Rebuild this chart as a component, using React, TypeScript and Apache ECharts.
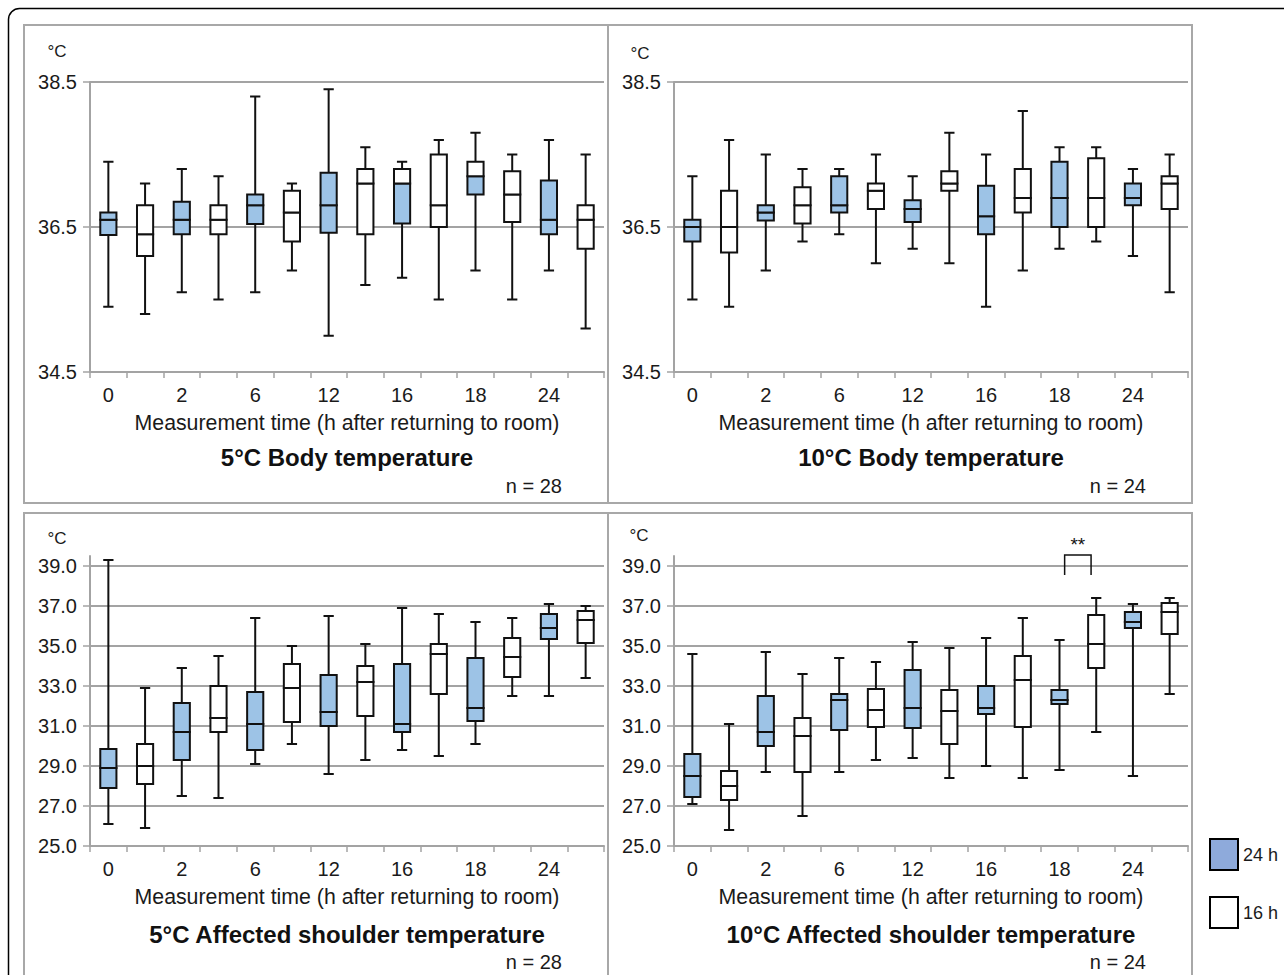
import React, { useEffect, useRef } from 'react';
import * as echarts from 'echarts';

// ---------- data ----------
const TIME_POINTS = ['0', '2', '6', '12', '16', '18', '24'];
const GROUPS = ['24 h', '16 h'];
const CATEGORIES = TIME_POINTS.flatMap((t) => GROUPS.map((g) => `${t}|${g}`));

const BODY_TICKS = [34.5, 36.5, 38.5];
const SHOULDER_TICKS = [25, 27, 29, 31, 33, 35, 37, 39];

// each row: [min, Q1, median, Q3, max]
const BODY5_24H = [
  [35.4, 36.39, 36.6, 36.7, 37.4],
  [35.6, 36.4, 36.6, 36.85, 37.3],
  [35.6, 36.54, 36.8, 36.95, 38.3],
  [35.0, 36.42, 36.8, 37.25, 38.4],
  [35.8, 36.55, 37.1, 37.3, 37.4],
  [35.9, 36.95, 37.2, 37.4, 37.8],
  [35.9, 36.4, 36.6, 37.14, 37.7],
];
const BODY5_16H = [
  [35.3, 36.1, 36.4, 36.8, 37.1],
  [35.5, 36.4, 36.6, 36.8, 37.2],
  [35.9, 36.3, 36.7, 37.0, 37.1],
  [35.7, 36.4, 37.1, 37.3, 37.6],
  [35.5, 36.5, 36.8, 37.5, 37.7],
  [35.5, 36.57, 36.95, 37.27, 37.5],
  [35.1, 36.2, 36.6, 36.8, 37.5],
];
const BODY10_24H = [
  [35.5, 36.3, 36.5, 36.6, 37.2],
  [35.9, 36.59, 36.7, 36.8, 37.5],
  [36.4, 36.7, 36.8, 37.2, 37.3],
  [36.2, 36.57, 36.75, 36.87, 37.2],
  [35.4, 36.4, 36.65, 37.07, 37.5],
  [36.2, 36.5, 36.9, 37.4, 37.6],
  [36.1, 36.8, 36.9, 37.1, 37.3],
];
const BODY10_16H = [
  [35.4, 36.15, 36.5, 37.0, 37.7],
  [36.3, 36.55, 36.8, 37.05, 37.3],
  [36.0, 36.75, 37.0, 37.1, 37.5],
  [36.0, 37.0, 37.1, 37.27, 37.8],
  [35.9, 36.7, 36.9, 37.3, 38.1],
  [36.3, 36.5, 36.9, 37.45, 37.6],
  [35.6, 36.75, 37.1, 37.2, 37.5],
];
const SHOULDER5_24H = [
  [26.1, 27.9, 28.9, 29.85, 39.3],
  [27.5, 29.3, 30.7, 32.15, 33.9],
  [29.1, 29.8, 31.1, 32.7, 36.4],
  [28.6, 31.0, 31.7, 33.55, 36.5],
  [29.8, 30.7, 31.1, 34.1, 36.9],
  [30.1, 31.25, 31.9, 34.4, 36.2],
  [32.5, 35.35, 35.9, 36.6, 37.1],
];
const SHOULDER5_16H = [
  [25.9, 28.1, 29.0, 30.1, 32.9],
  [27.4, 30.7, 31.4, 33.0, 34.5],
  [30.1, 31.2, 32.9, 34.1, 35.0],
  [29.3, 31.5, 33.2, 34.0, 35.1],
  [29.5, 32.6, 34.6, 35.1, 36.6],
  [32.5, 33.45, 34.45, 35.4, 36.4],
  [33.4, 35.15, 36.3, 36.75, 37.0],
];
const SHOULDER10_24H = [
  [27.1, 27.45, 28.5, 29.6, 34.6],
  [28.7, 30.0, 30.7, 32.5, 34.7],
  [28.7, 30.8, 32.3, 32.6, 34.4],
  [29.4, 30.9, 31.9, 33.8, 35.2],
  [29.0, 31.6, 31.9, 33.0, 35.4],
  [28.8, 32.1, 32.3, 32.8, 35.3],
  [28.5, 35.9, 36.2, 36.7, 37.1],
];
const SHOULDER10_16H = [
  [25.8, 27.3, 28.0, 28.75, 31.1],
  [26.5, 28.7, 30.5, 31.4, 33.6],
  [29.3, 30.95, 31.8, 32.85, 34.2],
  [28.4, 30.1, 31.75, 32.8, 34.9],
  [28.4, 30.95, 33.3, 34.5, 36.4],
  [30.7, 33.9, 35.1, 36.55, 37.4],
  [32.6, 35.6, 36.7, 37.15, 37.4],
];

// time points whose upper box half (median..Q3) is unfilled in the 5°C body 24 h series
const BODY5_24H_WHITE_UPPER = ['16', '18'];
// significance marker: 10°C shoulder, 24 h vs 16 h at 18 h
const SHOULDER10_SIGNIFICANT = [{ time: '18', mark: '**' }];

// ---------- styling ----------
const FONT = "'Liberation Sans', Arial, Helvetica, sans-serif";
const BLUE = '#9dc3e6';
const LEGEND_BLUE = '#8eaadb';
const GRID_GRAY = '#a3a3a3';
const INK = '#111111';

const PANELS = [
  {
    title: '5°C Body temperature', n: 'n = 28',
    g24: BODY5_24H, g16: BODY5_16H, whiteUpper: BODY5_24H_WHITE_UPPER,
    ticks: BODY_TICKS, min: 34.5, max: 38.5,
    grid: { left: 90, top: 82, width: 514, height: 290 },
    frame: { x: 24, y: 25, width: 584, height: 478 },
    unit: { x: 57, y: 51 },
  },
  {
    title: '10°C Body temperature', n: 'n = 24',
    g24: BODY10_24H, g16: BODY10_16H, whiteUpper: [] as string[],
    ticks: BODY_TICKS, min: 34.5, max: 38.5,
    grid: { left: 674, top: 82, width: 514, height: 290 },
    frame: { x: 608, y: 25, width: 584, height: 478 },
    unit: { x: 640, y: 53 },
  },
  {
    title: '5°C Affected shoulder temperature', n: 'n = 28',
    g24: SHOULDER5_24H, g16: SHOULDER5_16H, whiteUpper: [] as string[],
    ticks: SHOULDER_TICKS, min: 25, max: 39.5,
    grid: { left: 90, top: 556, width: 514, height: 290 },
    frame: { x: 24, y: 513, width: 584, height: 490 },
    unit: { x: 57, y: 538 },
  },
  {
    title: '10°C Affected shoulder temperature', n: 'n = 24',
    g24: SHOULDER10_24H, g16: SHOULDER10_16H, whiteUpper: [] as string[],
    ticks: SHOULDER_TICKS, min: 25, max: 39.5,
    grid: { left: 674, top: 556, width: 514, height: 290 },
    frame: { x: 608, y: 513, width: 584, height: 490 },
    unit: { x: 639, y: 535 },
  },
];

function makeBoxRenderer(fill: string, whiteUpper: string[]) {
  return (params: any, api: any) => {
    const x = api.value(0);
    const mn = api.value(1);
    const q1 = api.value(2);
    const md = api.value(3);
    const q3 = api.value(4);
    const mx = api.value(5);
    const band = api.size([1, 0])[0];
    const bw = band * 0.44;
    const cw = band * 0.28;
    const pMin = api.coord([x, mn]);
    const pQ1 = api.coord([x, q1]);
    const pMd = api.coord([x, md]);
    const pQ3 = api.coord([x, q3]);
    const pMax = api.coord([x, mx]);
    const cx = pMin[0];
    const line = { stroke: INK, lineWidth: 2 };
    const timeLabel = TIME_POINTS[Math.floor(x / 2)];
    const upperFill = whiteUpper.includes(timeLabel) ? '#ffffff' : fill;
    return {
      type: 'group',
      children: [
        { type: 'line', shape: { x1: cx, y1: pMax[1], x2: cx, y2: pQ3[1] }, style: line },
        { type: 'line', shape: { x1: cx, y1: pQ1[1], x2: cx, y2: pMin[1] }, style: line },
        { type: 'line', shape: { x1: cx - cw / 2, y1: pMax[1], x2: cx + cw / 2, y2: pMax[1] }, style: line },
        { type: 'line', shape: { x1: cx - cw / 2, y1: pMin[1], x2: cx + cw / 2, y2: pMin[1] }, style: line },
        {
          type: 'rect',
          shape: { x: cx - bw / 2, y: pMd[1], width: bw, height: pQ1[1] - pMd[1] },
          style: { fill, stroke: INK, lineWidth: 2 },
        },
        {
          type: 'rect',
          shape: { x: cx - bw / 2, y: pQ3[1], width: bw, height: pMd[1] - pQ3[1] },
          style: { fill: upperFill, stroke: INK, lineWidth: 2 },
        },
      ],
    };
  };
}

function bracketRenderer(params: any, api: any) {
  const a = api.value(0);
  const b = api.value(1);
  const top = 39.55;
  const leg = 38.55;
  const band = api.size([1, 0])[0];
  const pa = api.coord([a, top]);
  const pb = api.coord([b, top]);
  const mid = (pa[0] + pb[0]) / 2;
  const half = band * 0.36;
  const yTop = pa[1];
  const yLeg = api.coord([a, leg])[1];
  const mark = SHOULDER10_SIGNIFICANT[params.dataIndex].mark;
  return {
    type: 'group',
    children: [
      {
        type: 'polyline',
        shape: { points: [[mid - half, yLeg], [mid - half, yTop], [mid + half, yTop], [mid + half, yLeg]] },
        style: { stroke: INK, lineWidth: 1.5, fill: 'none' },
      },
      {
        type: 'text',
        style: {
          x: mid, y: yTop - 1, text: mark, align: 'center', verticalAlign: 'bottom',
          fontSize: 19, fontFamily: FONT, fill: INK,
        },
      },
    ],
  };
}

export default function App() {
  const ref = useRef<HTMLDivElement>(null);

  useEffect(() => {
    if (!ref.current) return;
    const chart = echarts.init(ref.current, undefined, { renderer: 'svg' });

    const grids: any[] = [];
    const xAxes: any[] = [];
    const yAxes: any[] = [];
    const series: any[] = [];
    const graphics: any[] = [];

    graphics.push({
      type: 'rect',
      shape: { x: 8.5, y: 8.5, width: 1320, height: 1020, r: 11 },
      style: { fill: 'none', stroke: '#000', lineWidth: 1.5 },
      silent: true,
    });

    PANELS.forEach((p, i) => {
      grids.push({ ...p.grid, containLabel: false });
      xAxes.push({
        type: 'category',
        gridIndex: i,
        data: CATEGORIES,
        boundaryGap: true,
        axisLine: { show: true, lineStyle: { color: GRID_GRAY, width: 2 } },
        axisTick: { show: true, interval: 0, length: 6, lineStyle: { color: GRID_GRAY, width: 1.5 } },
        axisLabel: {
          interval: 0,
          margin: 13,
          fontSize: 20,
          color: '#1a1a1a',
          fontFamily: FONT,
          formatter: (v: string) => {
            const [t, g] = v.split('|');
            return g === GROUPS[0] ? t : '';
          },
        },
        splitLine: { show: false },
        name: 'Measurement time (h after returning to room)',
        nameLocation: 'middle',
        nameGap: 40,
        nameTextStyle: { fontSize: 21.3, color: '#1a1a1a', fontFamily: FONT },
      });
      yAxes.push({
        type: 'value',
        gridIndex: i,
        min: p.min,
        max: p.max,
        axisLine: { show: true, lineStyle: { color: GRID_GRAY, width: 2 } },
        axisTick: { show: true, length: 7, customValues: p.ticks, lineStyle: { color: GRID_GRAY, width: 1.5 } },
        axisLabel: {
          customValues: p.ticks,
          margin: 13,
          fontSize: 20,
          color: '#1a1a1a',
          fontFamily: FONT,
          formatter: (v: number) => v.toFixed(1),
        },
        splitLine: { show: true, lineStyle: { color: GRID_GRAY, width: 2 } },
      });
      series.push({
        type: 'custom',
        name: GROUPS[0],
        xAxisIndex: i,
        yAxisIndex: i,
        clip: false,
        itemStyle: { color: BLUE, borderColor: INK },
        encode: { x: 0, y: [1, 2, 3, 4, 5] },
        data: p.g24.map((v, k) => [k * 2, ...v]),
        renderItem: makeBoxRenderer(BLUE, p.whiteUpper),
      });
      series.push({
        type: 'custom',
        name: GROUPS[1],
        xAxisIndex: i,
        yAxisIndex: i,
        clip: false,
        itemStyle: { color: '#ffffff', borderColor: INK },
        encode: { x: 0, y: [1, 2, 3, 4, 5] },
        data: p.g16.map((v, k) => [k * 2 + 1, ...v]),
        renderItem: makeBoxRenderer('#ffffff', []),
      });

      graphics.push({
        type: 'rect',
        shape: { ...p.frame },
        style: { fill: 'none', stroke: '#a8a8a8', lineWidth: 2 },
        silent: true,
      });
      graphics.push({
        type: 'text',
        x: p.unit.x,
        y: p.unit.y,
        style: { text: '°C', fontSize: 17, fontFamily: FONT, fill: '#1a1a1a', align: 'center', verticalAlign: 'middle' },
      });
      const cx = p.grid.left + p.grid.width / 2;
      const axisY = p.grid.top + p.grid.height;
      graphics.push({
        type: 'text',
        x: cx,
        y: axisY + (i < 2 ? 85 : 88),
        style: {
          text: p.title, fontSize: 24, fontWeight: 'bold', fontFamily: FONT, fill: '#111',
          align: 'center', verticalAlign: 'middle',
        },
      });
      graphics.push({
        type: 'text',
        x: p.grid.left + p.grid.width - 42,
        y: axisY + (i < 2 ? 114 : 116),
        style: { text: p.n, fontSize: 20, fontFamily: FONT, fill: '#1a1a1a', align: 'right', verticalAlign: 'middle' },
      });
    });

    series.push({
      type: 'custom',
      xAxisIndex: 3,
      yAxisIndex: 3,
      clip: false,
      encode: { x: [0, 1] },
      data: SHOULDER10_SIGNIFICANT.map((s) => {
        const k = TIME_POINTS.indexOf(s.time);
        return [k * 2, k * 2 + 1];
      }),
      renderItem: bracketRenderer,
    });

    chart.setOption({
      animation: false,
      backgroundColor: '#ffffff',
      textStyle: { fontFamily: FONT },
      grid: grids,
      xAxis: xAxes,
      yAxis: yAxes,
      series,
      legend: {
        orient: 'vertical',
        left: 1209,
        top: 838,
        itemWidth: 28,
        itemHeight: 31,
        itemGap: 25,
        icon: 'rect',
        selectedMode: false,
        padding: 0,
        textStyle: { fontSize: 18, color: '#1a1a1a', fontFamily: FONT },
        data: [
          { name: GROUPS[0], itemStyle: { color: LEGEND_BLUE, borderColor: '#000', borderWidth: 2 } },
          { name: GROUPS[1], itemStyle: { color: '#ffffff', borderColor: '#000', borderWidth: 2 } },
        ],
      },
      graphic: graphics,
    });

    return () => chart.dispose();
  }, []);

  return (
    <div
      ref={ref}
      style={{ position: 'absolute', left: 0, top: 0, width: 1284, height: 975, background: '#fff' }}
    />
  );
}
